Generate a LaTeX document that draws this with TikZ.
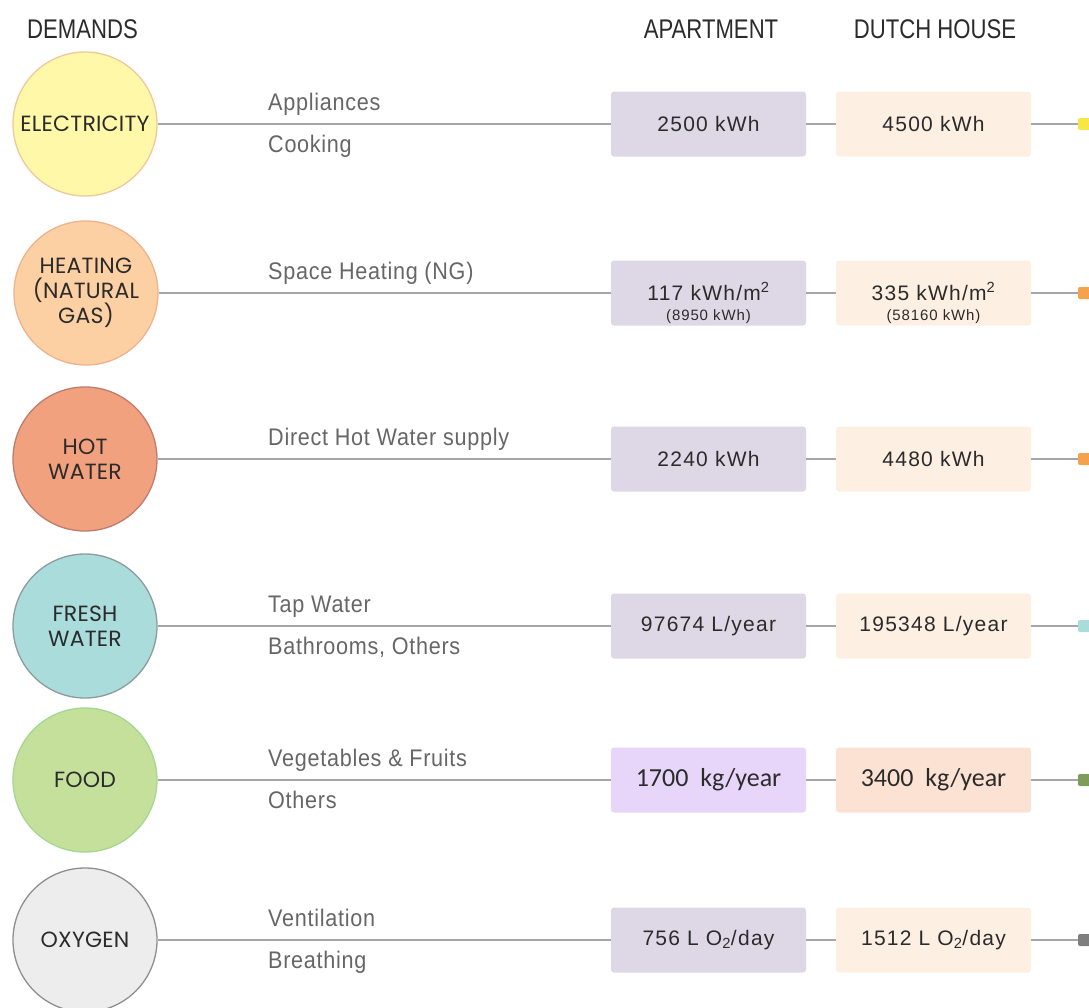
\documentclass[tikz,border=0pt]{standalone}
\usepackage{fontspec}
\setmainfont{Liberation Sans}
\newfontfamily\hdrfont[FakeStretch=0.82]{Liberation Sans}
\newfontfamily\circfont[LetterSpace=1]{Poppins}
\newfontfamily\lblfont[FakeStretch=0.9,LetterSpace=3]{Liberation Sans}
\newfontfamily\boxfont[LetterSpace=6]{Liberation Sans}
\newfontfamily\calfont{Carlito}

\definecolor{linegray}{HTML}{A6A6A6}
\definecolor{lbltext}{HTML}{666666}
\definecolor{darktext}{HTML}{2B2B2B}
\definecolor{aptfill}{HTML}{DED8E6}
\definecolor{dutchfill}{HTML}{FDF0E3}
\definecolor{aptfood}{HTML}{E8D6FA}
\definecolor{dutchfood}{HTML}{FCE2D3}
\definecolor{elecfill}{HTML}{FFF8A8}
\definecolor{elecline}{HTML}{EFC89C}
\definecolor{heatfill}{HTML}{FDD0A3}
\definecolor{heatline}{HTML}{EDB28E}
\definecolor{hotfill}{HTML}{F2A17F}
\definecolor{hotline}{HTML}{BF7C6E}
\definecolor{freshfill}{HTML}{A9DCDB}
\definecolor{freshline}{HTML}{8E9B9B}
\definecolor{foodfill}{HTML}{C5E09B}
\definecolor{foodline}{HTML}{A2D890}
\definecolor{oxyfill}{HTML}{EDEDED}
\definecolor{oxyline}{HTML}{8E8E8E}
\definecolor{elecmark}{HTML}{F6E646}
\definecolor{heatmark}{HTML}{F5A24C}
\definecolor{freshmark}{HTML}{A9DCDB}
\definecolor{foodmark}{HTML}{7E9C5A}
\definecolor{oxymark}{HTML}{7F7F7F}

\tikzset{
  demand/.style={circle, minimum size=144pt, inner sep=0pt, line width=1.3pt,
    align=center, font=\circfont\fontsize{22}{25}\selectfont, text=darktext},
  valbox/.style={rectangle, rounded corners=3pt, minimum width=195pt, minimum height=65pt,
    inner sep=0pt, align=center, text=darktext, font=\boxfont\fontsize{21}{24}\selectfont},
  aptbox/.style={valbox, fill=aptfill},
  dutchbox/.style={valbox, fill=dutchfill},
  valtext/.style={anchor=base, inner sep=0pt, text=darktext, font=\boxfont\fontsize{21}{24}\selectfont},
  valsmall/.style={anchor=base, inner sep=0pt, text=darktext, font=\boxfont\fontsize{15}{17}\selectfont},
  endmark/.style={rectangle, rounded corners=2pt, minimum width=16pt, minimum height=12pt, inner sep=0pt},
  conn/.style={draw=linegray, line width=1.4pt},
  lbl/.style={anchor=base west, inner sep=0pt, text=lbltext, font=\lblfont\fontsize{24}{28}\selectfont},
  hdr/.style={anchor=base, inner sep=0pt, text=darktext, font=\hdrfont\fontsize{27}{30}\selectfont},
}

\begin{document}
\begin{tikzpicture}[x=1pt,y=-1pt]
\useasboundingbox (0,0) rectangle (1089,1007);

% column headings
\node[hdr, anchor=base west] (hdem) at (27,38) {DEMANDS};
\node[hdr] (hapt) at (711,38) {APARTMENT};
\node[hdr] (hdut) at (935,38) {DUTCH HOUSE};

% electricity
\node[demand, fill=elecfill, draw=elecline] (c1) at (85,124) {ELECTRICITY};
\node[aptbox] (a1) at (708.5,124) {2500 kWh};
\node[dutchbox] (d1) at (933.5,124) {4500 kWh};
\node[endmark, fill=elecmark] (e1) at (1086,124) {};
\node[lbl] (l1a) at (268,110) {Appliances};
\node[lbl] (l1b) at (268,152) {Cooking};

% heating
\node[demand, fill=heatfill, draw=heatline] (c2) at (86,293) {HEATING\\(NATURAL\\GAS)};
\node[aptbox] (a2) at (708.5,293) {};
\node[valtext] (a2t) at (708.5,300) {117 kWh/m\textsuperscript{2}};
\node[valsmall] (a2s) at (708.5,320) {(8950 kWh)};
\node[dutchbox] (d2) at (933.5,293) {};
\node[valtext] (d2t) at (933.5,300) {335 kWh/m\textsuperscript{2}};
\node[valsmall] (d2s) at (933.5,320) {(58160 kWh)};
\node[endmark, fill=heatmark] (e2) at (1086,293) {};
\node[lbl] (l2a) at (268,279) {Space Heating (NG)};

% hot water
\node[demand, fill=hotfill, draw=hotline] (c3) at (85,459) {HOT\\WATER};
\node[aptbox] (a3) at (708.5,459) {2240 kWh};
\node[dutchbox] (d3) at (933.5,459) {4480 kWh};
\node[endmark, fill=heatmark] (e3) at (1086,459) {};
\node[lbl] (l3a) at (268,445) {Direct Hot Water supply};

% fresh water
\node[demand, fill=freshfill, draw=freshline] (c4) at (85,626) {FRESH\\WATER};
\node[aptbox] (a4) at (708.5,626) {97674 L/year};
\node[dutchbox] (d4) at (933.5,626) {195348 L/year};
\node[endmark, fill=freshmark] (e4) at (1086,626) {};
\node[lbl] (l4a) at (268,612) {Tap Water};
\node[lbl] (l4b) at (268,654) {Bathrooms, Others};

% food
\node[demand, fill=foodfill, draw=foodline] (c5) at (85,780) {FOOD};
\node[valbox, fill=aptfood, font=\calfont\fontsize{26}{28}\selectfont] (a5) at (708.5,780) {1700~ kg/year};
\node[valbox, fill=dutchfood, font=\calfont\fontsize{26}{28}\selectfont] (d5) at (933.5,780) {3400~ kg/year};
\node[endmark, fill=foodmark] (e5) at (1086,780) {};
\node[lbl] (l5a) at (268,766) {Vegetables \& Fruits};
\node[lbl] (l5b) at (268,808) {Others};

% oxygen
\node[demand, fill=oxyfill, draw=oxyline] (c6) at (85,940) {OXYGEN};
\node[aptbox] (a6) at (708.5,940) {756 L O\textsubscript{2}/day};
\node[dutchbox] (d6) at (933.5,940) {1512 L O\textsubscript{2}/day};
\node[endmark, fill=oxymark] (e6) at (1086,940) {};
\node[lbl] (l6a) at (268,926) {Ventilation};
\node[lbl] (l6b) at (268,968) {Breathing};

% connectors
\foreach \i in {1,...,6} {
  \draw[conn] (c\i) -- (a\i);
  \draw[conn] (a\i) -- (d\i);
  \draw[conn] (d\i) -- (e\i);
}
\end{tikzpicture}
\end{document}
